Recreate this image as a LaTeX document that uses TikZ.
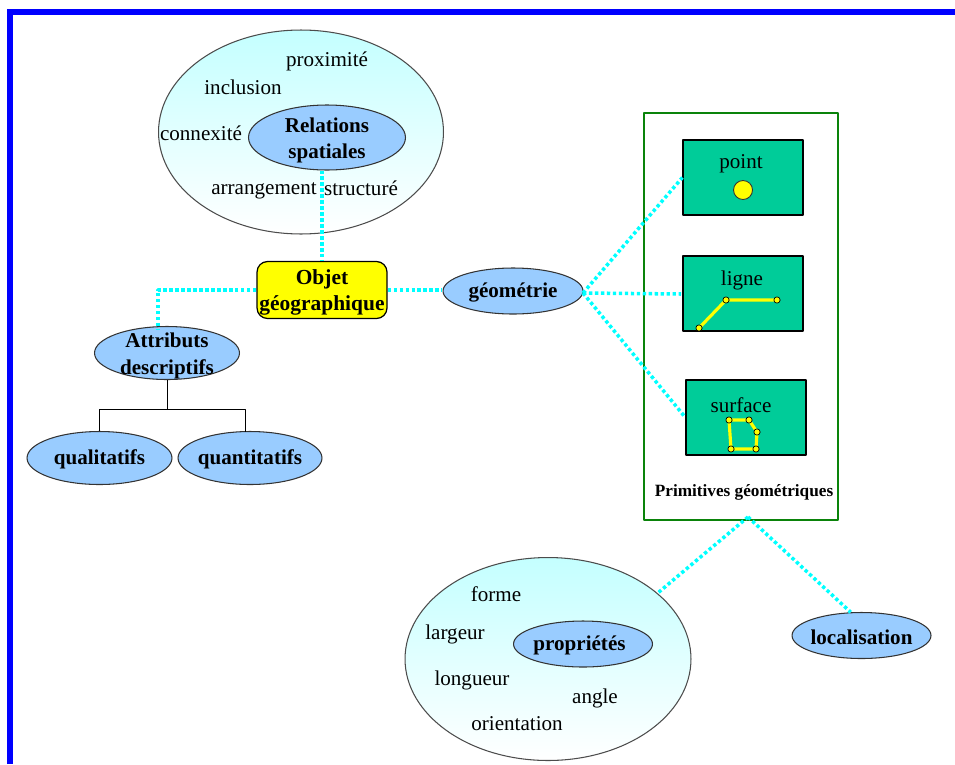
\documentclass[tikz,border=0pt]{standalone}
\usepackage{fontspec}
\setmainfont{Liberation Serif}
\usetikzlibrary{shapes.geometric}
\definecolor{bulle}{HTML}{99CCFF}
\definecolor{ciel}{HTML}{C4FFFF}
\definecolor{vert}{HTML}{00CC99}
\definecolor{cadre}{HTML}{0A830A}
\definecolor{pointille}{RGB}{0,255,255}
\definecolor{bordure}{RGB}{0,0,255}
\definecolor{jaune}{RGB}{255,255,0}
\newcommand\haut[1]{\rule{0pt}{#1pt}}
\tikzset{
	zone/.style={ellipse,draw=black!70,line width=0.6pt,top color=ciel,bottom color=white,inner sep=0pt},
	bulle/.style={ellipse,draw=black!80,line width=0.6pt,fill=bulle,inner sep=-8pt,align=center,font=\bfseries\fontsize{12}{15}\selectfont},
	prim/.style={draw=black,line width=0.7pt,fill=vert,minimum width=2.4cm,minimum height=1.5cm,inner sep=0pt},
	mot/.style={inner sep=0pt,font=\fontsize{12}{15}\selectfont},
	lien/.style={pointille,line width=2pt,dash pattern=on 1.9pt off 1.5pt},
	trait/.style={jaune,line width=1.8pt},
	sommet/.style={circle,draw=black,fill=jaune,line width=0.4pt,inner sep=0pt,minimum size=3.6pt}
}
\begin{document}
\begin{tikzpicture}[x=0.02cm,y=-0.02cm,line join=round]
	\useasboundingbox (0,0) rectangle (955,764);
	\draw[bordure,line width=3.5pt,line join=miter] (10,764) -- (10,12) -- (955,12);
	% relations spatiales
	\node[zone,minimum width=5.7cm,minimum height=4.08cm] (zoneRel) at (301,132) {};
	\node[bulle,minimum width=3.14cm,minimum height=1.3cm] (rel) at (327,137.5) {\haut{11.5}Relations\hspace{3pt}\\spatiales};
	\node[mot] at (327,61) {proximité};
	\node[mot] at (243,87) {inclusion};
	\node[mot] at (201,133) {connexité};
	\node[mot] at (264,191) {arrangement};
	\node[mot] at (361,188) {structuré};
	% objet et attributs
	\node[draw=black,line width=0.7pt,fill=jaune,rounded corners=6pt,minimum width=2.6cm,minimum height=1.14cm,inner sep=0pt,align=center,font=\bfseries\fontsize{12.2}{15}\selectfont] (objet) at (322,290) {\haut{11.5}Objet\\géographique};
	\node[bulle,minimum width=2.9cm,minimum height=1.06cm] (attr) at (167,353) {\haut{11.5}Attributs\\descriptifs};
	\node[bulle,minimum width=2.9cm,minimum height=1.06cm] (quali) at (99.5,458) {\haut{10}qualitatifs};
	\node[bulle,minimum width=2.88cm,minimum height=1.06cm] (quanti) at (250,458) {\haut{10}quantitatifs};
	\node[bulle,minimum width=2.8cm,minimum height=0.92cm] (geom) at (513,291) {\haut{10}géométrie};
	% primitives
	\node[draw=cadre,line width=1.4pt,minimum width=3.88cm,minimum height=8.14cm,inner sep=0pt] (cadre) at (741,316.5) {};
	\node[prim] (point) at (743,177.5) {};
	\node[prim] (ligne) at (743,293.5) {};
	\node[prim] (surface) at (746,417.5) {};
	\node[mot] at (741,164) {point};
	\node[mot] at (742,280) {ligne};
	\node[mot] at (741,405) {surface};
	\node[inner sep=0pt,font=\bfseries\fontsize{9.8}{12}\selectfont] at (744,492) {Primitives géométriques};
	\fill[jaune,draw=black!80,line width=0.5pt] (743,190) circle (9.5);
	\draw[trait] (699,328) -- (726,300) -- (777,300);
	\foreach \x/\y in {699/328,726/300,777/300}
		\node[sommet] at (\x,\y) {};
	\draw[trait] (729,420) -- (749,420) -- (757,432) -- (756,449) -- (731,449) -- cycle;
	\foreach \x/\y in {729/420,749/420,757/432,756/449,731/449}
		\node[sommet] at (\x,\y) {};
	% proprietes
	\node[zone,minimum width=5.72cm,minimum height=4.06cm] (zoneProp) at (548,659) {};
	\node[bulle,minimum width=2.78cm,minimum height=0.92cm] (prop) at (583,644) {\haut{10}propriétés\hspace{4pt}};
	\node[bulle,minimum width=2.78cm,minimum height=0.92cm] (loc) at (861.5,635.5) {\haut{10}localisation};
	\node[mot] at (496,594) {forme};
	\node[mot] at (455,634) {largeur};
	\node[mot] at (472,680) {longueur};
	\node[mot] at (595,698) {angle};
	\node[mot] at (517,724) {orientation};
	% liens
	\coordinate (coude) at (158,330);
	\coordinate (sommetCadre) at (748,517);
	\coordinate (departGeom) at (583,293);
	\coordinate (finLigne) at (681,294);
	\draw[lien] (rel.south -| objet.north) -- (objet.north);
	\draw[lien] (objet.west) -| (coude);
	\draw[lien] (objet.east) -- (geom.west |- objet.east);
	\draw[lien] (departGeom) -- (point.west);
	\draw[lien] (departGeom) -- (finLigne);
	\draw[lien] (departGeom) -- (surface.west);
	\draw[lien] (sommetCadre) -- (zoneProp.31);
	\draw[lien] (sommetCadre) -- (loc.115);
	\draw[line width=0.4pt] (attr.south) -- (167,409) -| (quali.north);
	\draw[line width=0.4pt] (167,409) -| (245,432);
\end{tikzpicture}
\end{document}
